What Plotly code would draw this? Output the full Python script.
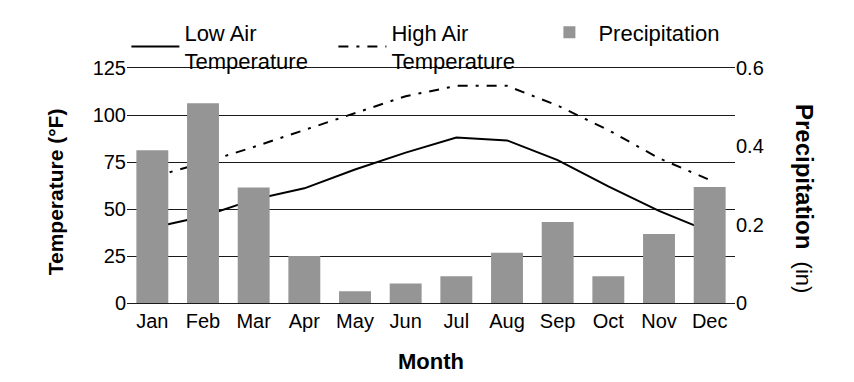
import plotly.graph_objects as go

months = ["Jan", "Feb", "Mar", "Apr", "May", "Jun", "Jul", "Aug", "Sep", "Oct", "Nov", "Dec"]
low_temp = [40, 46, 55, 61, 71, 80, 88, 86.5, 76, 62, 49, 38]
high_temp = [67, 74.5, 83, 92, 101, 110, 115.5, 115.5, 105, 92, 77, 65.5]
precip = [0.39, 0.51, 0.295, 0.12, 0.03, 0.05, 0.068, 0.128, 0.207, 0.068, 0.176, 0.296]
temp_ticks = [0, 25, 50, 75, 100, 125]
precip_ticks = [0, 0.2, 0.4, 0.6]
precip_ticktext = ["0", "0.2", "0.4", "0.6"]

FONT = "Liberation Sans, Arial, sans-serif"

fig = go.Figure()
fig.add_trace(go.Bar(x=months, y=precip, name="Precipitation", legendrank=3,
                     marker=dict(color="#959595", line=dict(width=0)),
                     width=0.63, yaxis="y2"))
fig.add_trace(go.Scatter(x=months, y=low_temp, mode="lines", name="Low Air<br>Temperature", legendrank=1,
                         line=dict(color="black", width=2), yaxis="y"))
fig.add_trace(go.Scatter(x=months, y=high_temp, mode="lines", name="High Air<br>Temperature", legendrank=2,
                         line=dict(color="black", width=2, dash="10px,8px,3px,8px"), yaxis="y"))

fig.update_layout(
    width=854, height=382,
    margin=dict(l=127, r=119, t=68, b=79, autoexpand=False),
    paper_bgcolor="white", plot_bgcolor="white",
    font=dict(family=FONT, size=20, color="black"),
    showlegend=True,
    legend=dict(orientation="h", xref="paper", yref="paper",
                x=-0.001, xanchor="left", y=(303 - 11.5) / 235, yanchor="top",
                font=dict(size=22), itemwidth=48, entrywidth=144,
                valign="middle", bgcolor="rgba(0,0,0,0)"),
    xaxis=dict(showgrid=False, showline=True, mirror=True, linecolor="#1a1a1a", linewidth=1,
               ticks="", tickfont=dict(size=20), automargin=False),
    yaxis=dict(range=[0, 125], tickvals=temp_ticks, showgrid=True, gridcolor="#1a1a1a", gridwidth=1,
               zeroline=False, showline=False, ticks="", tickfont=dict(size=20), automargin=False),
    yaxis2=dict(range=[0, 0.6], tickvals=precip_ticks, ticktext=precip_ticktext,
                overlaying="y", side="right", showgrid=False, zeroline=False, showline=False,
                ticks="", tickfont=dict(size=20), automargin=False),
    barmode="overlay",
)
fig.add_annotation(text="<b>Temperature (°F)</b>", textangle=-90, xref="paper", yref="paper",
                   x=-0.118, y=(303 - 192) / 235, xanchor="center", yanchor="middle", showarrow=False,
                   font=dict(size=21, family=FONT))
fig.add_annotation(text="<b>Precipitation</b><span style='font-size:22px'>&nbsp;&nbsp;(in)</span>",
                   textangle=90, xref="paper", yref="paper",
                   x=(805 - 127) / 608, y=(303 - 198) / 235, xanchor="center", yanchor="middle",
                   showarrow=False, font=dict(size=24, family=FONT))
fig.add_annotation(text="<b>Month</b>", xref="paper", yref="paper",
                   x=0.5, y=(303 - 361) / 235, xanchor="center", yanchor="middle", showarrow=False,
                   font=dict(size=22, family=FONT))
fig.write_html("out.html", config={"displayModeBar": False},
               post_script="document.body.style.margin='0';document.body.style.padding='0';")
